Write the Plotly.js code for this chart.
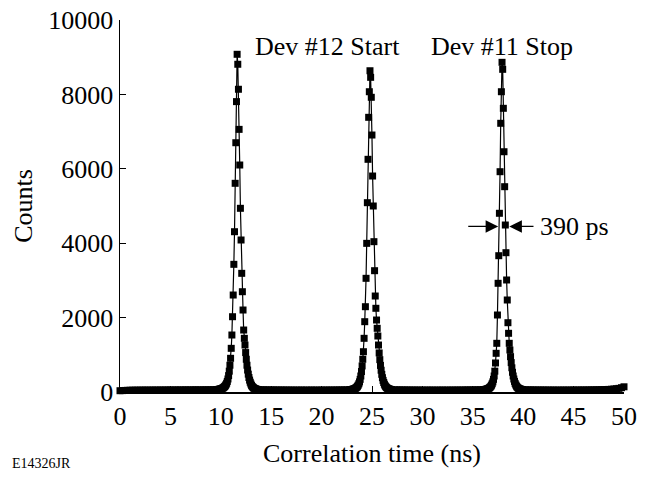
<!DOCTYPE html>
<html><head><meta charset="utf-8">
<script src="https://cdn.plot.ly/plotly-3.0.1.min.js"></script>
<style>body{margin:0;background:#fff}#chart{width:647px;height:479px}</style>
</head><body><div id="chart"></div>
<script>
// Histogram bin widths (ns): coarse for flat baseline stretches, fine for the peaks
const baseBin = 0.25;
const peakBin = 0.065;

// Baseline stretches (start time ns, counts)
const baseAStart = 0.0;
const baseA = [35,38,42,45,47,48,50,49,51,50,52,51,50,53,52,51,54,52,53,55,54,53,55,56,54,55,57,56,55,57,58,57,56,58,59,58,60,61];
const baseBStart = 14.0;
const baseB = [59,58,57,56,55,55,54,53,54,52,53,52,51,52,50,51,52,50,51,50,52,51,50,51,52,51,52,53,52,53,54,54,55,56,57];
const baseCStart = 27.25;
const baseC = [58,57,56,55,54,54,53,52,53,51,52,51,50,51,52,50,51,50,51,52,50,51,52,51,52,53,52,53,54,55,55,56,57,58,59];
const baseDStart = 40.25;
const baseD = [58,57,56,55,54,53,54,52,53,52,51,52,51,50,52,51,52,51,52,53,52,53,54,53,54,55,56,57,58,60,62,64,67,70,74,80,88,98,115,140];

// Peaks (start time ns, counts)
const peak1Start = 9.54;  // Dev #12 Start
const peak1 = [62,64,66,68,71,74,78,83,89,96,105,116,130,148,170,198,235,285,350,440,560,720,906,1174,1532,2024,2607,3432,4309,5610,6701,7806,9078,
               8810,8138,7060,6102,4938,4086,3190,2696,2204,1666,1443,1263,1060,880,720,590,480,390,320,262,215,178,150,128,112,100,90,82,76,71,67,64,62];
const peak2Start = 22.785;
const peak2 = [60,62,64,67,70,74,79,85,93,103,116,133,155,184,222,272,340,430,550,700,880,1083,1443,1890,2293,3056,3996,5089,6255,7384,8072,8636,
               8459,7922,6908,5806,5000,4041,3261,2580,2250,1935,1712,1505,1263,1050,870,715,585,475,385,312,255,208,172,145,124,108,96,87,80,74,69,65,62];
const peak3Start = 36.015; // Dev #11 Stop
const peak3 = [60,62,64,67,70,74,79,85,93,103,116,133,155,184,222,272,340,430,560,780,1040,1309,2070,2922,3664,4804,5922,7223,8072,8862,
               8674,7626,6459,5519,4489,3745,3011,2473,1863,1578,1309,1129,950,790,650,530,430,350,285,232,190,158,133,114,100,90,82,76,71,67,64,62];

const xTicks = [0,5,10,15,20,25,30,35,40,45,50];
const yTicks = [0,2000,4000,6000,8000,10000];
const xTitle = 'Correlation time (ns)';
const yTitle = 'Counts';
const labelStart = 'Dev #12 Start';
const labelStop = 'Dev #11 Stop';
const fwhmLabel = '390 ps';
const fwhmCounts = 4450;
const figId = 'E14326JR';

const segments = [
  [baseAStart, baseBin, baseA], [peak1Start, peakBin, peak1],
  [baseBStart, baseBin, baseB], [peak2Start, peakBin, peak2],
  [baseCStart, baseBin, baseC], [peak3Start, peakBin, peak3],
  [baseDStart, baseBin, baseD]
];
const t = [], c = [];
segments.forEach(([s, w, arr]) => arr.forEach((v, i) => { t.push(+(s + i * w).toFixed(3)); c.push(v); }));

const serif = 'Liberation Serif, Times New Roman, serif';
const trace = {
  x: t, y: c, type: 'scatter', mode: 'lines+markers', cliponaxis: false,
  line: {color: '#000', width: 1.2},
  marker: {symbol: 'square', size: 7, color: '#000'},
  hoverinfo: 'skip'
};
const axisCommon = {
  ticks: 'inside', ticklen: 6, tickwidth: 1, tickcolor: '#000',
  showline: true, linecolor: '#000', linewidth: 1.5,
  showgrid: false, zeroline: false,
  tickfont: {family: serif, size: 26, color: '#000'}
};
const layout = {
  width: 647, height: 479,
  margin: {l: 120, r: 23, t: 20, b: 87},
  paper_bgcolor: '#fff', plot_bgcolor: '#fff',
  showlegend: false,
  xaxis: Object.assign({}, axisCommon, {range: [0, 50], tickvals: xTicks, ticktext: xTicks.map(String),
    title: {text: xTitle, font: {family: serif, size: 26, color: '#000'}, standoff: 14}}),
  yaxis: Object.assign({}, axisCommon, {range: [0, 10000], tickvals: yTicks, ticktext: yTicks.map(String),
    title: {text: yTitle, font: {family: serif, size: 26, color: '#000'}, standoff: 8}}),
  annotations: [
    {x: 20.6, y: 9300, xref: 'x', yref: 'y', text: labelStart, showarrow: false,
     font: {family: serif, size: 26, color: '#000'}},
    {x: 37.9, y: 9300, xref: 'x', yref: 'y', text: labelStop, showarrow: false,
     font: {family: serif, size: 26, color: '#000'}},
    {x: 37.52, y: fwhmCounts, ax: 34.4, ay: fwhmCounts, xref: 'x', yref: 'y', axref: 'x', ayref: 'y',
     text: '', showarrow: true, arrowhead: 2, arrowsize: 2.1, arrowwidth: 1.2, arrowcolor: '#000', standoff: 0},
    {x: 38.62, y: fwhmCounts, ax: 41.17, ay: fwhmCounts, xref: 'x', yref: 'y', axref: 'x', ayref: 'y',
     text: '', showarrow: true, arrowhead: 2, arrowsize: 2.1, arrowwidth: 1.2, arrowcolor: '#000', standoff: 0},
    {x: 41.45, y: fwhmCounts, xref: 'x', yref: 'y', text: fwhmLabel, showarrow: false, xanchor: 'left',
     font: {family: serif, size: 26, color: '#000'}},
    {x: -0.218, y: -0.191, xref: 'paper', yref: 'paper', text: figId, showarrow: false,
     xanchor: 'left', yanchor: 'middle', font: {family: serif, size: 14, color: '#000'}}
  ]
};
Plotly.newPlot('chart', [trace], layout, {staticPlot: true, displayModeBar: false});
</script>
</body></html>
